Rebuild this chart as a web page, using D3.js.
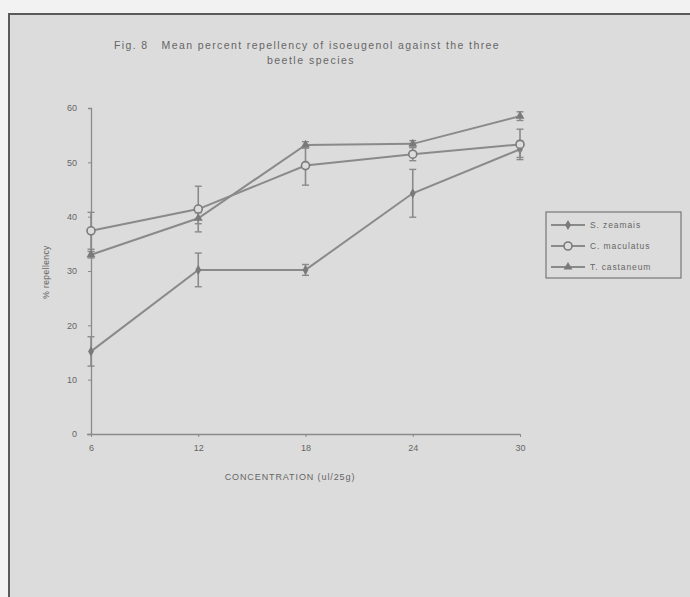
<!DOCTYPE html>
<html><head><meta charset="utf-8">
<script src="https://cdn.jsdelivr.net/npm/d3@7"></script>
<style>
body{margin:0;background:#f2f2f2;}
svg{display:block;font-family:Arial, "Liberation Sans", sans-serif;}
</style></head>
<body><svg id="c" width="690" height="597"></svg>
<script>
const concentrations = [6, 12, 18, 24, 30];
const seriesNames = ["S. zeamais", "C. maculatus", "T. castaneum"];
const zeamais = [15.2, 30.2, 30.2, 44.3, 52.4];
const zeamaisErr = [2.7, 3.1, 1.0, 4.4, 1.5];
const maculatus = [37.4, 41.4, 49.4, 51.5, 53.3];
const maculatusErr = [3.4, 4.2, 3.6, 1.2, 2.8];
const castaneum = [33.0, 39.7, 53.2, 53.4, 58.5];
const castaneumErr = [0.6, 1.0, 0.6, 0.6, 0.8];
const yTicks = [0, 10, 20, 30, 40, 50, 60];
const titleLines = ["Fig. 8   Mean percent repellency of isoeugenol against the three", "beetle species"];

const series = [
  {name: seriesNames[0], vals: zeamais, err: zeamaisErr, marker: "diamond"},
  {name: seriesNames[1], vals: maculatus, err: maculatusErr, marker: "circle"},
  {name: seriesNames[2], vals: castaneum, err: castaneumErr, marker: "triangle"}
];

const svg = d3.select("#c");
const lineCol = "#8a8a8a", textCol = "#666";

// panel
svg.append("rect").attr("x", 9).attr("y", 14).attr("width", 690).attr("height", 590)
  .attr("fill", "#dcdcdc").attr("stroke", "#5a5a5a").attr("stroke-width", 2);

const x = d3.scaleLinear().domain([6, 30]).range([91, 520]);
const y = d3.scaleLinear().domain([0, 60]).range([434, 108]);

// title
svg.append("text").attr("x", 307).attr("y", 49).attr("text-anchor", "middle").style("white-space", "pre")
  .attr("font-size", 10.5).attr("fill", textCol).attr("letter-spacing", 1.4).text(titleLines[0]);
svg.append("text").attr("x", 311).attr("y", 64).attr("text-anchor", "middle")
  .attr("font-size", 10.5).attr("fill", textCol).attr("letter-spacing", 1.5).text(titleLines[1]);

// axes
const yAxis = d3.axisLeft(y).tickValues(yTicks).tickSize(3).tickPadding(11);
const gy = svg.append("g").attr("transform", "translate(91,0)").call(yAxis);
const xAxis = d3.axisBottom(x).tickValues(concentrations).tickSize(3).tickPadding(8);
const gx = svg.append("g").attr("transform", "translate(0,434)").call(xAxis);
[gx, gy].forEach(g => {
  g.select(".domain").attr("stroke", lineCol).attr("stroke-width", 1.3);
  g.selectAll(".tick line").attr("stroke", lineCol);
  g.selectAll("text").attr("fill", textCol).attr("font-size", 9).attr("font-family", "Arial, 'Liberation Sans', sans-serif");
});
gx.select(".domain").attr("d", "M87,0.5H520");

svg.append("text").attr("transform", "translate(49,272) rotate(-90)").attr("text-anchor", "middle")
  .attr("font-size", 8.5).attr("fill", textCol).attr("letter-spacing", 0.4).text("% repellency");
svg.append("text").attr("x", 290).attr("y", 480).attr("text-anchor", "middle")
  .attr("font-size", 9).attr("fill", textCol).attr("letter-spacing", 0.9).text("CONCENTRATION (ul/25g)");

function drawMarker(g, type, cx, cy) {
  if (type === "diamond") {
    g.append("path").attr("d", d3.symbol(d3.symbolDiamond, 30)()).attr("transform", `translate(${cx},${cy})`)
      .attr("fill", "#7a7a7a");
  } else if (type === "circle") {
    g.append("circle").attr("cx", cx).attr("cy", cy).attr("r", 4)
      .attr("fill", "#dcdcdc").attr("stroke", "#7a7a7a").attr("stroke-width", 1.6);
  } else {
    g.append("path").attr("d", d3.symbol(d3.symbolTriangle, 34)()).attr("transform", `translate(${cx},${cy})`)
      .attr("fill", "#7a7a7a");
  }
}

const line = d3.line().x((d, i) => x(concentrations[i])).y(d => y(d));
series.forEach(s => {
  const g = svg.append("g");
  g.append("path").attr("d", line(s.vals)).attr("fill", "none").attr("stroke", lineCol).attr("stroke-width", 2);
  s.vals.forEach((v, i) => {
    const cx = x(concentrations[i]);
    const y1 = y(v + s.err[i]), y2 = y(v - s.err[i]);
    g.append("line").attr("x1", cx).attr("x2", cx).attr("y1", y1).attr("y2", y2).attr("stroke", lineCol).attr("stroke-width", 1.6);
    [y1, y2].forEach(yy => g.append("line").attr("x1", cx - 3.5).attr("x2", cx + 3.5).attr("y1", yy).attr("y2", yy)
      .attr("stroke", lineCol).attr("stroke-width", 1.4));
    drawMarker(g, s.marker, cx, y(v));
  });
});

// legend
const lg = svg.append("g");
lg.append("rect").attr("x", 546).attr("y", 212).attr("width", 135).attr("height", 66)
  .attr("fill", "#dcdcdc").attr("stroke", "#777").attr("stroke-width", 1.2);
series.forEach((s, i) => {
  const yy = 225 + i * 21;
  lg.append("line").attr("x1", 551).attr("x2", 585).attr("y1", yy).attr("y2", yy).attr("stroke", lineCol).attr("stroke-width", 2);
  drawMarker(lg, s.marker, 568, yy);
  lg.append("text").attr("x", 590).attr("y", yy + 3).attr("font-size", 8.5).attr("fill", textCol)
    .attr("letter-spacing", 0.9).text(s.name);
});
</script></body></html>
